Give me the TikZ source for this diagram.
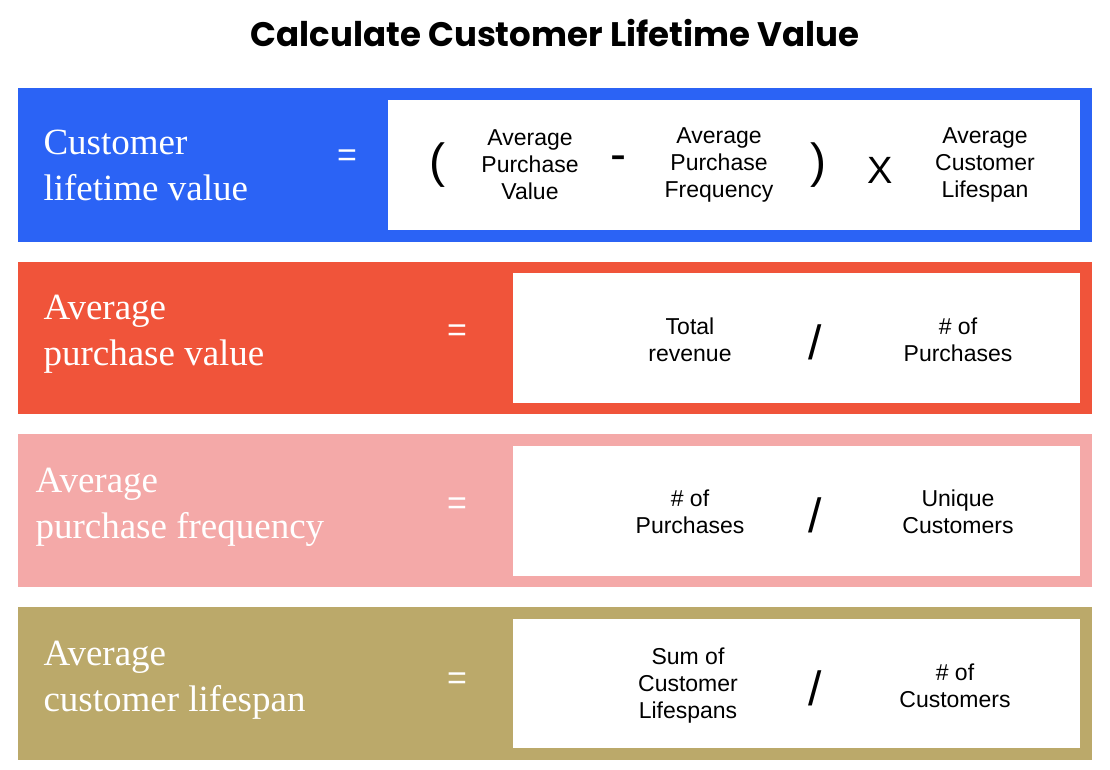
\documentclass[tikz,border=0pt]{standalone}
\usepackage{fontspec}
\setmainfont{Liberation Serif}
\setsansfont{Liberation Sans}
\newfontfamily\titlefont{Poppins}
\definecolor{cblue}{HTML}{2B63F5}
\definecolor{cred}{HTML}{F0543A}
\definecolor{cpink}{HTML}{F4A9A8}
\definecolor{colive}{HTML}{BBA96A}
\begin{document}
\begin{tikzpicture}[x=1pt,y=-1pt,
  band/.style={fill=#1,draw=none},
  wbox/.style={fill=white,draw=none},
  lab/.style={anchor=west,align=left,text=white,font=\fontsize{37}{46}\selectfont},
  eqs/.style={text=white,font=\sffamily\fontsize{34}{34}\selectfont},
  term/.style={align=center,font=\sffamily\fontsize{23}{27}\selectfont},
  op/.style={font=\sffamily\fontsize{48}{48}\selectfont}]
\useasboundingbox (0,0) rectangle (1110,769);
\fill[white] (0,0) rectangle (1110,769);
\node[font=\titlefont\bfseries\fontsize{34}{34}\selectfont] (title) at (555,33) {Calculate Customer Lifetime Value};
% row 1
\fill[band=cblue] (18,88) rectangle (1092,242);
\fill[wbox] (388,100) rectangle (1080,230);
\node[lab] (l1) at (40,165) {Customer\\lifetime value};
\node[eqs] (e1) at (347,158) {=};
\node[op] (p1) at (437,165) {(};
\node[term] (t11) at (530,165) {Average\\Purchase\\Value};
\node[op] (m1) at (618,163) {-};
\node[term] (t12) at (719,165) {Average\\Purchase\\Frequency};
\node[op] (p2) at (818,165) {)};
\node[font=\sffamily\fontsize{38}{38}\selectfont] (x1) at (880,170) {X};
\node[term] (t13) at (985,165) {Average\\Customer\\Lifespan};
% row 2
\fill[band=cred] (18,262) rectangle (1092,414);
\fill[wbox] (513,273) rectangle (1080,403);
\node[lab] (l2) at (40,334) {Average\\purchase value};
\node[eqs] (e2) at (457,333) {=};
\node[term] (t21) at (690,340) {Total\\revenue};
\node[op] (s2) at (815,342) {/};
\node[term] (t22) at (958,340) {\# of\\Purchases};
% row 3
\fill[band=cpink] (18,434) rectangle (1092,587);
\fill[wbox] (513,446) rectangle (1080,576);
\node[lab] (l3) at (32,507) {Average\\purchase frequency};
\node[eqs] (e3) at (457,506) {=};
\node[term] (t31) at (690,512) {\# of\\Purchases};
\node[op] (s3) at (815,515) {/};
\node[term] (t32) at (958,512) {Unique\\Customers};
% row 4
\fill[band=colive] (18,607) rectangle (1092,760);
\fill[wbox] (513,619) rectangle (1080,748);
\node[lab] (l4) at (40,680) {Average\\customer lifespan};
\node[eqs] (e4) at (457,681) {=};
\node[term] (t41) at (688,686) {Sum of\\Customer\\Lifespans};
\node[op] (s4) at (815,688) {/};
\node[term] (t42) at (955,686) {\# of\\Customers};
\end{tikzpicture}
\end{document}
